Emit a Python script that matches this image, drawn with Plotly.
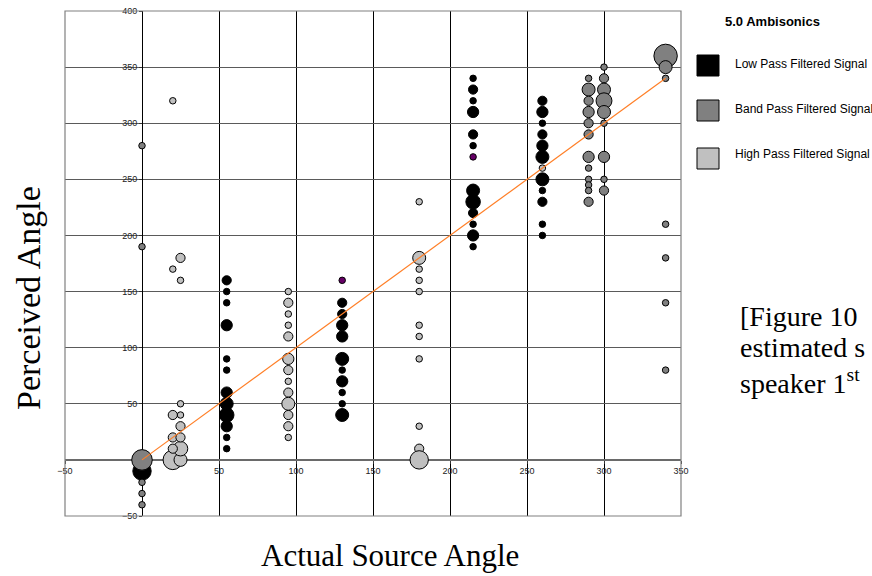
import plotly.graph_objects as go
import math

# ---------------- data ----------------
# Low pass filtered signal (black): actual angle, perceived angle, count of responses
low_x = [0,
         55, 55, 55, 55, 55, 55, 55, 55, 55, 55, 55, 55,
         130, 130, 130, 130, 130, 130, 130, 130, 130, 130,
         215, 215, 215, 215, 215, 215, 215, 215, 215, 215, 215, 215,
         260, 260, 260, 260, 260, 260, 260, 260, 260, 260, 260]
low_y = [-10,
         160, 150, 140, 120, 90, 80, 60, 50, 40, 30, 20, 10,
         140, 130, 120, 110, 90, 80, 70, 60, 50, 40,
         340, 330, 320, 310, 290, 280, 240, 230, 220, 210, 200, 190,
         320, 310, 300, 290, 280, 270, 250, 240, 230, 210, 200]
low_n = [8,
         2, 1, 1, 3, 1, 1, 3, 4, 5, 3, 1, 1,
         2, 2, 3, 3, 4, 1, 3, 1, 1, 4,
         1, 2, 1, 3, 2, 1, 4, 5, 2, 1, 3, 1,
         2, 3, 1, 2, 3, 4, 4, 1, 2, 1, 1]

# odd-coloured points (purple) in the low pass series
odd_x = [130, 215]
odd_y = [160, 270]
odd_n = [1, 1]

# Band pass filtered signal (mid grey)
band_x = [0, 0, 0, 0, 0, 0,
          290, 290, 290, 290, 290, 290, 290, 290, 290, 290, 290, 290,
          300, 300, 300, 300, 300, 300, 300, 300, 300,
          340, 340, 340, 340, 340, 340, 340]
band_y = [280, 190, 0, -20, -30, -40,
          340, 330, 320, 310, 300, 290, 270, 260, 250, 245, 240, 230,
          350, 340, 330, 320, 310, 300, 270, 250, 240,
          360, 350, 340, 210, 180, 140, 80]
band_n = [1, 1, 10, 1, 1, 1,
          1, 4, 2, 3, 2, 2, 3, 1, 1, 1, 1, 2,
          1, 2, 4, 6, 4, 1, 3, 1, 2,
          13, 4, 1, 1, 1, 1, 1]

# High pass filtered signal (light grey)
high_x = [20, 25, 20, 25,
          20, 25, 25, 25, 25, 20, 25, 20, 25, 20,
          95, 95, 95, 95, 95, 95, 95, 95, 95, 95, 95, 95, 95,
          180, 180, 180, 180, 180, 180, 180, 180, 180, 180, 180,
          260]
high_y = [320, 180, 170, 160,
          0, 0, 10, 50, 40, 40, 30, 20, 20, 10,
          150, 140, 130, 120, 110, 90, 80, 70, 60, 50, 40, 30, 20,
          230, 180, 170, 160, 150, 120, 110, 90, 30, 10, 0,
          260]
high_n = [1, 2, 1, 1,
          9, 4, 5, 1, 1, 2, 2, 2, 2, 2,
          1, 2, 1, 1, 2, 3, 2, 1, 2, 4, 2, 2, 1,
          1, 4, 1, 1, 1, 1, 1, 1, 1, 2, 8,
          1]

# ideal response line
ideal_x = [0, 340]
ideal_y = [0, 340]

series_names = ["Low Pass Filtered Signal", "Band Pass Filtered Signal", "High Pass Filtered Signal"]
series_colors = ["#000000", "#808080", "#C0C0C0"]
legend_title = "5.0 Ambisonics"
caption_lines = ["[Figure 10", "estimated s", "speaker 1<sup>st</sup>"]

# the 0 labels are hidden behind the bubbles at the origin in the reference
x_ticks = [-50, 50, 100, 150, 200, 250, 300, 350]
y_ticks = [-50, 50, 100, 150, 200, 250, 300, 350, 400]


def diam(counts):
    return [6.5 * math.sqrt(c) for c in counts]


fig = go.Figure()

for xs, ys, ns, name, col in [(low_x, low_y, low_n, series_names[0], series_colors[0]),
                              (band_x, band_y, band_n, series_names[1], series_colors[1]),
                              (high_x, high_y, high_n, series_names[2], series_colors[2])]:
    fig.add_trace(go.Scatter(x=xs, y=ys, mode="markers", name=name, showlegend=False,
                             marker=dict(size=diam(ns), color=col, opacity=1,
                                         line=dict(color="#000000", width=1))))

fig.add_trace(go.Scatter(x=odd_x, y=odd_y, mode="markers", showlegend=False,
                         marker=dict(size=diam(odd_n), color="#660066", opacity=1,
                                     line=dict(color="#000000", width=1))))

fig.add_trace(go.Scatter(x=ideal_x, y=ideal_y, mode="lines", showlegend=False,
                         line=dict(color="#FF7F27", width=1.2)))

# plot-area pixel geometry
L, R, T, B = 65, 681, 11, 516
W, H = 872, 576


def px(x):
    return (x - L) / (R - L)


def py(y):
    return (B - y) / (B - T)


tickfont = dict(family="Liberation Sans, Arial", size=9, color="#222222")

fig.update_layout(
    width=W, height=H,
    margin=dict(l=L, r=W - R, t=T, b=H - B, pad=0, autoexpand=False),
    paper_bgcolor="white", plot_bgcolor="white",
    showlegend=False,
    xaxis=dict(range=[-50, 350], tickvals=x_ticks,
               showgrid=True, gridcolor="#000000", gridwidth=1,
               zeroline=False, showline=True, linecolor="#6a6a6a", linewidth=1.6,
               ticks="outside", ticklen=3, tickcolor="#333333",
               anchor="free", position=(0 - (-50)) / 450.0,
               tickfont=tickfont, layer="below traces", fixedrange=True, automargin=False),
    yaxis=dict(range=[-50, 400], tickvals=y_ticks,
               showgrid=True, gridcolor="#5a5a5a", gridwidth=1,
               zeroline=False, showline=True, linecolor="#000000", linewidth=1,
               ticks="outside", ticklen=3, tickcolor="#333333",
               anchor="free", position=(0 - (-50)) / 400.0,
               tickfont=tickfont, layer="below traces", fixedrange=True, automargin=False),
)

shapes = [dict(type="rect", xref="paper", yref="paper", x0=0, x1=1, y0=0, y1=1,
               line=dict(color="#808080", width=1.2), layer="above")]

# manual legend
leg_y = [65.5, 110.5, 158.5]
for yy, col in zip(leg_y, series_colors):
    shapes.append(dict(type="rect", xref="paper", yref="paper",
                       x0=px(697), x1=px(719), y0=py(yy - 10.5), y1=py(yy + 10.5),
                       fillcolor=col, line=dict(color="#000000", width=1)))

annotations = [dict(xref="paper", yref="paper", x=px(723), y=py(21), xanchor="left", yanchor="middle",
                    text="<b>" + legend_title + "</b>", showarrow=False,
                    font=dict(family="Liberation Sans, Arial", size=13, color="#000000"))]
for yy, name in zip([64, 109, 154], series_names):
    annotations.append(dict(xref="paper", yref="paper", x=px(733), y=py(yy), xanchor="left",
                            yanchor="middle", text=name, showarrow=False,
                            font=dict(family="Liberation Sans, Arial", size=12, color="#000000")))

serif = "Liberation Serif, Times New Roman, serif"
annotations += [
    dict(xref="paper", yref="paper", x=px(28), y=py(298), text="Perceived Angle", textangle=-90,
         showarrow=False, xanchor="center", yanchor="middle",
         font=dict(family=serif, size=34, color="#000000")),
    dict(xref="paper", yref="paper", x=px(390), y=py(555), text="Actual Source Angle",
         showarrow=False, xanchor="center", yanchor="middle",
         font=dict(family=serif, size=31, color="#000000")),
]
for yy, line in zip([316, 348, 381], caption_lines):
    annotations.append(dict(xref="paper", yref="paper", x=px(738), y=py(yy), text=line,
                            showarrow=False, xanchor="left", yanchor="middle", align="left",
                            font=dict(family=serif, size=28, color="#000000")))

fig.update_layout(shapes=shapes, annotations=annotations)
fig.write_html("out.html")
